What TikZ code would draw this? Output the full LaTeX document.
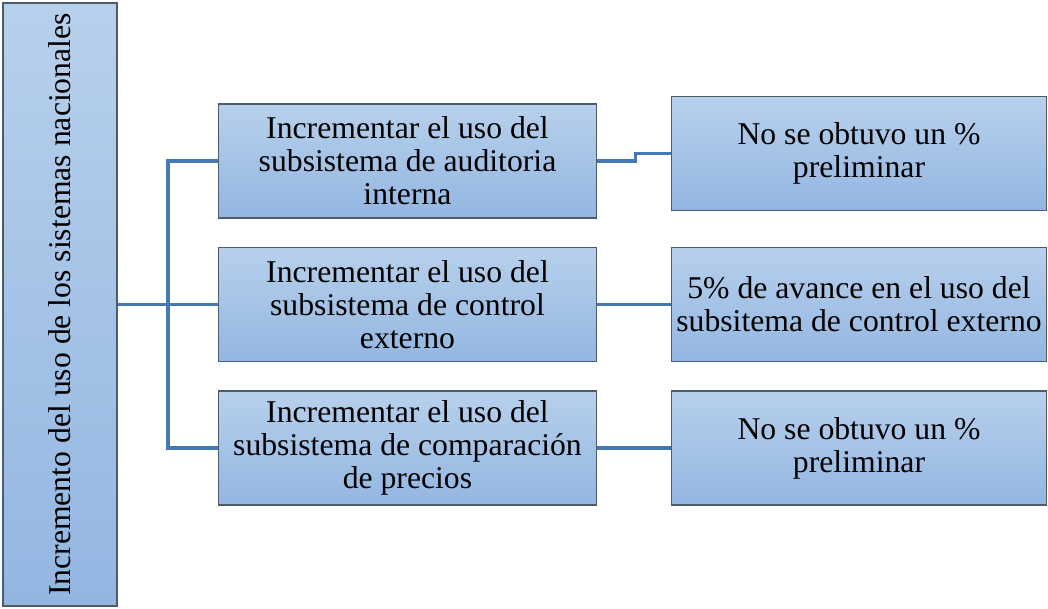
\documentclass[tikz,border=0pt]{standalone}
\usepackage{fontspec}
\setmainfont{Liberation Serif}
\definecolor{boxtop}{HTML}{B7D0EC}
\definecolor{boxbottom}{HTML}{93B6E1}
\definecolor{boxborder}{HTML}{4E5B68}
\definecolor{linkblue}{HTML}{4679B4}
\begin{document}
\begin{tikzpicture}
[x=1pt,y=-1pt,
  boxDecorate/.style={shape=rectangle,draw=boxborder,line width=1.4pt,top color=boxtop,bottom color=boxbottom,align=center,inner sep=0pt,font=\fontsize{31.7}{33}\selectfont},
  lineDecorate/.style={-,draw=linkblue,line width=3.2pt}]
\useasboundingbox (0,0) rectangle (1048,608);
%% nodes or boxes
\node (lft) at (60,304.5) [boxDecorate,rotate=90,minimum width=603pt,minimum height=114pt]
  {Incremento del uso de los sistemas nacionales};
\foreach \nodename/\y/\txt in {
  m1/161/{Incrementar el uso del\\subsistema de auditoria\\interna},
  m2/304.5/{Incrementar el uso del\\subsistema de control\\externo},
  m3/448/{Incrementar el uso del\\subsistema de comparación\\de precios}}
{
  \node (\nodename) at (407.5,\y) [boxDecorate,minimum width=378pt,minimum height=114pt] {\txt};
}
\foreach \nodename/\y/\txt in {
  r1/153.5/{No se obtuvo un \%\\preliminar},
  r2/304.5/{5\% de avance en el uso del\\subsitema de control externo},
  r3/448/{No se obtuvo un \%\\preliminar}}
{
  \node (\nodename) at (859,\y) [boxDecorate,minimum width=375pt,minimum height=114pt] {\txt};
}
\coordinate (trunk) at (168,304.5);
%% edges or lines
\draw[lineDecorate] (lft.south) -- (trunk);
\draw[lineDecorate] (m1.west) -| (trunk) |- (m3.west);
\draw[lineDecorate] (trunk) -- (m2.west);
\draw[lineDecorate] (m1.east) -- ++(38,0) |- (r1.west);
\path
\foreach \startnode/\endnode in {m2/r2, m3/r3}
{
  (\startnode.east) edge[lineDecorate] (\endnode.west)
};
\end{tikzpicture}
\end{document}
